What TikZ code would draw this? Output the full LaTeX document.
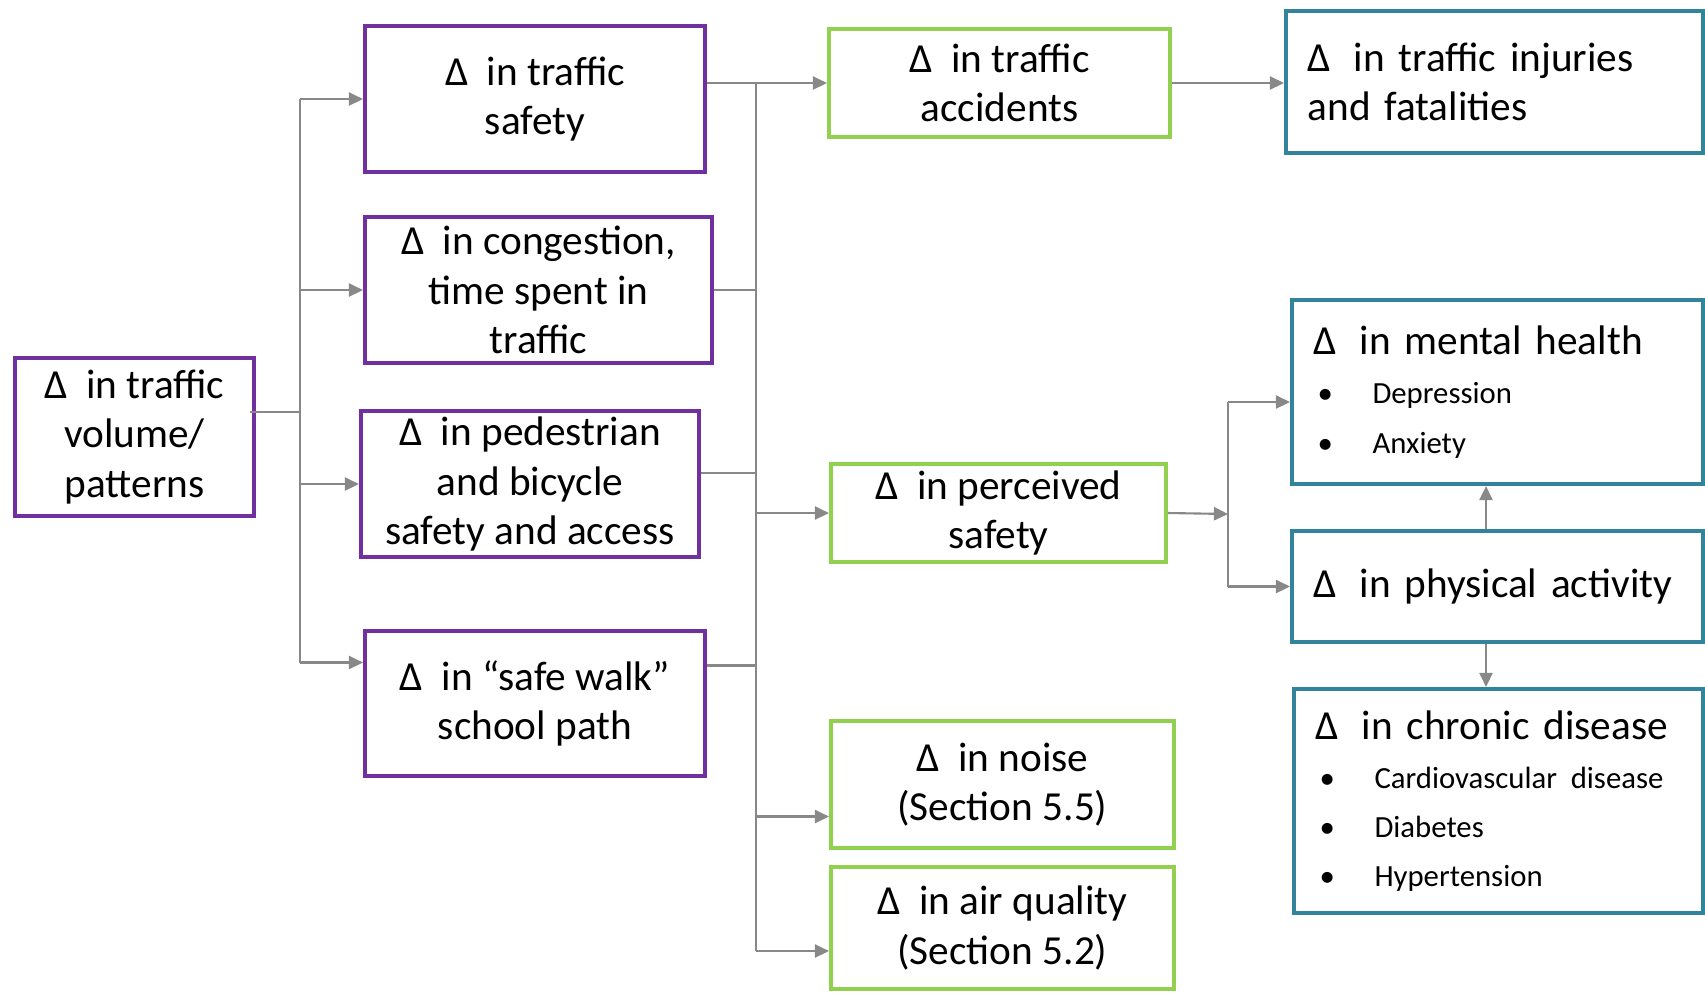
\documentclass[tikz,border=0pt]{standalone}
\usepackage{fontspec}
\setmainfont{Carlito}
\usetikzlibrary{arrows.meta,calc}
\definecolor{boxpurple}{HTML}{7030A0}
\definecolor{boxgreen}{HTML}{92D050}
\definecolor{boxteal}{HTML}{31849B}
\definecolor{linkgray}{HTML}{888888}
% delta prefix with its wide gap
\newcommand{\dd}{Δ\hspace{0.22em}}
% bullet line inside the outcome boxes
\newcommand{\bitem}[1]{{\fontsize{17.5}{28}\selectfont\hspace*{0.08cm}\makebox[1.1cm][l]{\textbullet}#1}}
\begin{document}
\begin{tikzpicture}[x=0.02cm,y=-0.02cm,
  box/.style={draw, rectangle, line width=2.4pt, inner sep=0pt, align=center,
    font=\fontsize{23.5}{28}\selectfont},
  pbox/.style={box, draw=boxpurple},
  gbox/.style={box, draw=boxgreen},
  tbox/.style={box, draw=boxteal, align=left, inner xsep=0.43cm, text width=#1},
  link/.style={draw=linkgray, line width=1.2pt},
  arr/.style={link, -{Triangle[length=8pt,width=7.5pt]}}
]
\useasboundingbox (0,0) rectangle (1705,992);

% source
\node[pbox, minimum width=4.78cm, minimum height=3.16cm] (A) at (134.5,437)
  {\dd{} in traffic\\volume/\\patterns};

% first-level changes
\node[pbox, minimum width=6.8cm, minimum height=2.92cm] (B1) at (535,99)
  {\dd{} in traffic\\safety};
\node[pbox, minimum width=6.94cm, minimum height=2.92cm] (B2) at (538.5,290)
  {\dd{} in congestion,\\time spent in\\traffic};
\node[pbox, minimum width=6.76cm, minimum height=2.92cm] (B3) at (530,484)
  {\dd{} in pedestrian\\and bicycle\\safety and access};
\node[pbox, minimum width=6.8cm, minimum height=2.9cm] (B4) at (535,703.5)
  {\dd{} in “safe walk”\\school path};

% intermediate effects
\node[gbox, minimum width=6.82cm, minimum height=2.16cm] (C1) at (999.5,83)
  {\dd{} in traffic\\accidents};
\node[gbox, minimum width=6.7cm, minimum height=1.96cm] (C2) at (998.5,513)
  {\dd{} in perceived\\safety};
\node[gbox, minimum width=6.86cm, minimum height=2.54cm] (C3) at (1002.5,784.5)
  {\dd{} in noise\\(Section 5.5)};
\node[gbox, minimum width=6.86cm, minimum height=2.44cm] (C4) at (1002.5,928)
  {\dd{} in air quality\\(Section 5.2)};

% health outcomes
\node[tbox=7.48cm, minimum height=2.84cm] (D1) at (1494.5,82)
  {\dd{} in traffic injuries\\and fatalities};
\node[tbox=7.36cm, minimum height=3.68cm] (D2) at (1497.5,392)
  {\dd{} in mental health\\\bitem{Depression}\\\bitem{Anxiety}};
\node[tbox=7.36cm, minimum height=2.22cm] (D3) at (1497.5,586.5)
  {\dd{} in physical activity};
\node[tbox=7.32cm, minimum height=4.48cm] (D4) at (1498.5,801)
  {\dd{} in chronic disease\\\bitem{Cardiovascular disease}\\\bitem{Diabetes}\\\bitem{Hypertension}};

% left distribution bus
\coordinate (LB) at (300,412);
\coordinate (B4w) at ($(B4.west)+(0,-41)$);
\draw[link] ($(A.east)+(-6,-25)$) -- (LB);
\draw[link] (LB |- B1.west) -- (LB |- B4w);
\draw[arr] (LB |- B1.west) -- (B1.west);
\draw[arr] (LB |- B2.west) -- (B2.west);
\draw[arr] (LB |- B3.west) -- (B3.west);
\draw[arr] (LB |- B4w) -- (B4w);

% right collection bus
\coordinate (RB) at (756,0);
\coordinate (B3e) at ($(B3.east)+(0,-11)$);
\coordinate (B4e) at ($(B4.east)+(0,-38)$);
\coordinate (C3w) at ($(C3.west)+(0,32)$);
\coordinate (C4w) at ($(C4.west)+(0,23)$);
\draw[arr] (B1.east |- C1.west) -- (C1.west);
\draw[link] (B2.east) -- (RB |- B2.east);
\draw[link] (B3e) -- (RB |- B3e);
\draw[link] (B4e) -- (RB |- B4e);
\draw[link] (RB |- C1.west) -- (RB |- C4w);
\draw[arr] (RB |- C2.west) -- (C2.west);
\draw[arr] (RB |- C3w) -- (C3w);
\draw[arr] (RB |- C4w) -- (C4w);

% outcome links
\draw[arr] (C1.east) -- (D1.west |- C1.east);
\coordinate (MB) at (1228,514);
\coordinate (D2w) at ($(D2.west)+(0,10)$);
\draw[arr] (C2.east) -- (MB);
\draw[link] (MB |- D2w) -- (MB |- D3.west);
\draw[arr] (MB |- D2w) -- (D2w);
\draw[arr] (MB |- D3.west) -- (D3.west);
\coordinate (VX) at (1486,0);
\draw[arr] (D3.north -| VX) -- (D2.south -| VX);
\draw[arr] (D3.south -| VX) -- (D4.north -| VX);
\end{tikzpicture}
\end{document}
